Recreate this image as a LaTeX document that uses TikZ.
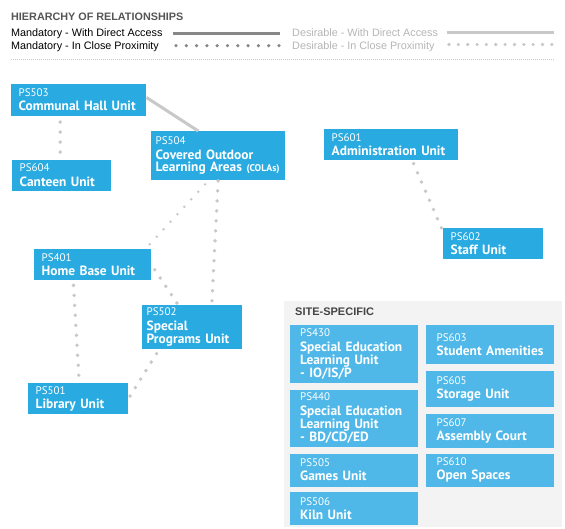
\documentclass[tikz,border=0pt]{standalone}
\usepackage{fontspec}
\setmainfont{Liberation Sans}
\newfontfamily\unitfont{PT Sans}

\definecolor{unitblue}{HTML}{29ABE2}
\definecolor{siteblue}{HTML}{50B8E8}
\definecolor{panelgray}{HTML}{F3F3F3}
\definecolor{linkgray}{HTML}{C8C8C8}
\definecolor{mustgray}{HTML}{878787}
\definecolor{wishgray}{HTML}{B5B5B5}
\definecolor{titlegray}{HTML}{555555}

\newcommand{\codefont}{\unitfont\mdseries\fontsize{11}{12}\selectfont}
\newcommand{\namefont}{\unitfont\bfseries\fontsize{13.4}{12.2}\selectfont}
\newcommand{\colafont}{\unitfont\bfseries\fontsize{9.8}{11}\selectfont}

\begin{document}
\begin{tikzpicture}[x=1pt, y=-1pt, unit node/.style={fill=unitblue, text=white, anchor=north west, align=left, inner xsep=7.5pt, inner ysep=0pt, font=\namefont}, site node/.style={unit node, fill=siteblue, inner xsep=10.5pt, text width=107pt}, close link/.style={draw=linkgray, line width=3.8pt, line cap=round, dash pattern=on 0pt off 10pt}, small link/.style={close link, line width=2.8pt, dash pattern=on 0pt off 10.2pt}, direct link/.style={draw=linkgray, line width=3pt}, legend text/.style={anchor=base west, inner sep=0pt, font=\fontsize{10.8}{12}\selectfont}]
\useasboundingbox (0,0) rectangle (565,529);

% legend
\node[legend text, text=titlegray, font=\bfseries\fontsize{10.8}{12}\selectfont] (title) at (11,20.7) {HIERARCHY OF RELATIONSHIPS};

\node[legend text] (mustdirect) at (11,37) {Mandatory - With Direct Access};
\node[legend text] (mustclose) at (11,49.3) {Mandatory - In Close Proximity};
\node[legend text, text=wishgray] (wishdirect) at (292,37) {Desirable - With Direct Access};
\node[legend text, text=wishgray] (wishclose) at (292,49.3) {Desirable - In Close Proximity};

\draw[mustgray, line width=3pt] (172.5,33.5) -- (280,33.5);
\draw[mustgray, line width=3.6pt, line cap=round, dash pattern=on 0pt off 10.3pt] (176,45.7) -- (279.5,45.7);
\draw[linkgray, line width=3pt] (447,32.5) -- (554,32.5);
\draw[linkgray, line width=3.6pt, line cap=round, dash pattern=on 0pt off 9.35pt] (449,44.5) -- (552.5,44.5);

% separator
\draw[linkgray, line width=0.8pt, dash pattern=on 0.8pt off 1.2pt] (11,59) -- (555,59);

% units
\node[unit node, text width=120pt, minimum height=31.5pt] (ps503) at (11,84) {{\codefont PS503}\\[2pt]Communal Hall Unit};

\node[unit node, text width=84pt, minimum height=31pt] (ps604) at (12,159.5) {{\codefont PS604}\\[2pt]Canteen Unit};

\node[unit node, inner xsep=4.5pt, text width=125pt, minimum height=49pt] (ps504) at (151,131) {{\codefont PS504}\\[2pt]Covered Outdoor\\\mbox{Learning Areas {\colafont(COLAs)}}};

\node[unit node, text width=119pt, minimum height=31pt] (ps601) at (324,129) {{\codefont PS601}\\[2pt]\mbox{Administration Unit}};

\node[unit node, text width=85pt, minimum height=31pt] (ps602) at (443,228) {{\codefont PS602}\\[2pt]Staff Unit};

\node[unit node, text width=102pt, minimum height=31pt] (ps401) at (34,249) {{\codefont PS401}\\[2pt]Home Base Unit};

\node[unit node, inner xsep=4.5pt, text width=91pt, minimum height=44pt] (ps502) at (142,305) {{\codefont PS502}\\[2pt]Special\\\mbox{Programs Unit}};

\node[unit node, text width=85pt, minimum height=31pt] (ps501) at (28,383) {{\codefont PS501}\\[2pt]Library Unit};

% site-specific
\fill[panelgray] (283.5,301) rectangle (561.5,527);
\node[anchor=base west, inner sep=0pt, text=titlegray!80!black, font=\bfseries\fontsize{11}{12}\selectfont] (sitetitle) at (295,315.7) {SITE-SPECIFIC};

% left column
\node[site node, minimum height=58pt] (ps430) at (289.4,325.2) {{\codefont PS430}\\[2pt]\mbox{Special Education}\\Learning Unit\\- IO/IS/P};

\node[site node, minimum height=57pt] (ps440) at (289.4,389.6) {{\codefont PS440}\\[2pt]\mbox{Special Education}\\Learning Unit\\- BD/CD/ED};

\node[site node, minimum height=33pt] (ps505) at (289.4,453.3) {{\codefont PS505}\\[2pt]Games Unit};

\node[site node, minimum height=33pt] (ps506) at (289.4,492.2) {{\codefont PS506}\\[2pt]Kiln Unit};

% right column
\node[site node, minimum height=39pt] (ps603) at (426,325.2) {{\codefont PS603}\\[2pt]\mbox{Student Amenities}};

\node[site node, minimum height=36pt] (ps605) at (426,370.5) {{\codefont PS605}\\[2pt]Storage Unit};

\node[site node, minimum height=34pt] (ps607) at (426,414) {{\codefont PS607}\\[2pt]\mbox{Assembly Court}};

\node[site node, minimum height=33pt] (ps610) at (426,453.3) {{\codefont PS610}\\[2pt]Open Spaces};

\path
% communal hall
([xshift=-18.5pt]ps503.south) edge[close link, shorten <=6.2pt] ([xshift=-1.5pt]ps604.north)
([yshift=2.5pt]ps503.east) edge[direct link] ([xshift=-20pt]ps504.north)

% colas
([xshift=-9.5pt]ps504.south) edge[small link, shorten <=5.3pt] ([xshift=-6pt]ps401.north east)
(ps504.south) edge[close link, shorten <=0.5pt] ([xshift=19.5pt]ps502.north)

% home base
(ps401.east) edge[close link, shorten <=6pt] ([xshift=-14pt]ps502.north)
([xshift=-19.5pt]ps401.south) edge[close link, shorten <=5pt] ([xshift=1pt]ps501.north)

% special programs -> library
([xshift=-33pt]ps502.south) edge[close link, shorten <=5pt] (ps501.east)

% administration -> staff
([xshift=21pt]ps601.south) edge[close link, shorten <=3.5pt] ([xshift=-1.5pt]ps602.north west)
;

\end{tikzpicture}
\end{document}
